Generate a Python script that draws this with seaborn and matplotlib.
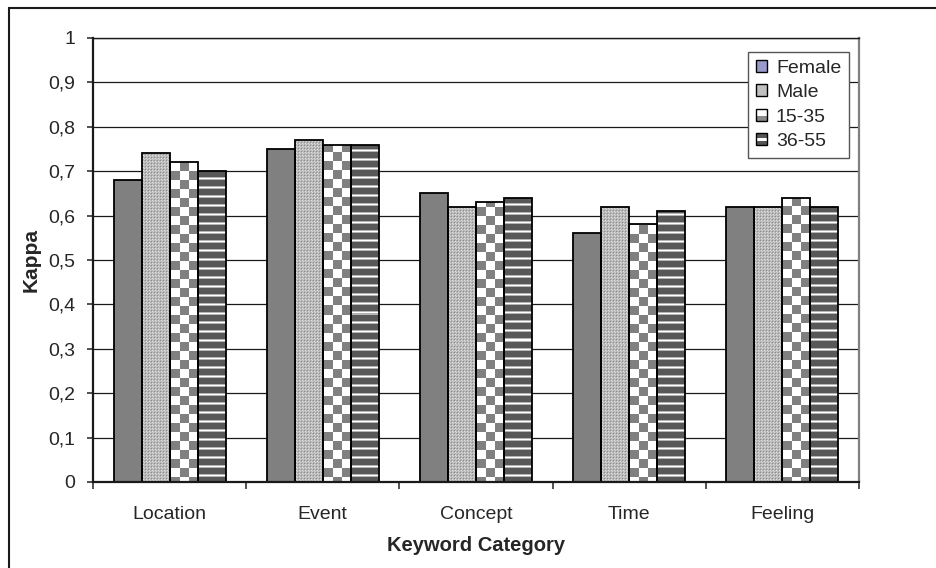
import numpy as np
import pandas as pd
import matplotlib
matplotlib.use("Agg")
import matplotlib.pyplot as plt
import seaborn as sns
from matplotlib.patches import Rectangle, Patch
from matplotlib.legend_handler import HandlerBase

# ---- data ---------------------------------------------------------------
categories = ["Location", "Event", "Concept", "Time", "Feeling"]
groups = ["Female", "Male", "15-35", "36-55"]
female = [0.68, 0.75, 0.65, 0.56, 0.62]
male = [0.74, 0.77, 0.62, 0.62, 0.62]
age_15_35 = [0.72, 0.76, 0.63, 0.58, 0.64]
age_36_55 = [0.70, 0.76, 0.64, 0.61, 0.62]
y_ticks = [0, 0.1, 0.2, 0.3, 0.4, 0.5, 0.6, 0.7, 0.8, 0.9, 1.0]
y_tick_labels = ["0", "0,1", "0,2", "0,3", "0,4", "0,5", "0,6", "0,7", "0,8", "0,9", "1"]

series = {"Female": female, "Male": male, "15-35": age_15_35, "36-55": age_36_55}
df = pd.DataFrame(
    [(c, g, v) for g in groups for c, v in zip(categories, series[g])],
    columns=["Category", "Group", "Kappa"],
)

# ---- style --------------------------------------------------------------
sns.set_style("white")
plt.rcParams["font.family"] = ["Liberation Sans", "DejaVu Sans"]

W, H = 936, 568
fig = plt.figure(figsize=(W / 100, H / 100), dpi=100)
ax_l, ax_r, ax_t, ax_b = 93, 859, 38, 482
ax = fig.add_axes([ax_l / W, 1 - ax_b / H, (ax_r - ax_l) / W, (ax_b - ax_t) / H])

palette = {"Female": "#808080", "Male": "#c0c0c0", "15-35": "#c0c0c0", "36-55": "#5a5a5a"}
sns.barplot(
    data=df, x="Category", y="Kappa", hue="Group",
    order=categories, hue_order=groups, palette=palette,
    width=0.73, saturation=1, edgecolor="black", linewidth=1.3,
    errorbar=None, legend=False, ax=ax,
)

ax.set_xlim(-0.5, len(categories) - 0.5)
ax.set_ylim(0, 1)
ax.set_autoscale_on(False)


# ---- bar fill textures (pixel patterns clipped to each bar) ---------------
def grid_shape(rows, cols):
    return np.broadcast(rows, cols).shape


def tex_solid(rows, cols):
    v = np.full(grid_shape(rows, cols), 0x80 / 255)
    return np.dstack([v] * 3)


def tex_dots(rows, cols):
    base = np.full(grid_shape(rows, cols), 0.72)
    base[((rows % 3) == 1) & ((cols % 3) == 1)] = 0.56
    base[((rows % 3) == 2) & ((cols % 3) == 2)] = 0.88
    base[((rows % 3) == 0) & ((cols % 3) == 0)] = 0.82
    return np.dstack([base] * 3)


def tex_checker(rows, cols):
    cell = 9
    on = ((rows // cell) + (cols // cell)) % 2 == 0
    v = np.where(on, 0x80 / 255, 1.0)
    return np.dstack([v] * 3)


def tex_stripes(rows, cols):
    period = 9
    phase = np.broadcast_to(rows % period, grid_shape(rows, cols))
    lut = np.array([0x58, 0x58, 0x58, 0x58, 0x58, 0x58, 0xb4, 0xff, 0xb4]) / 255
    v = lut[phase]
    return np.dstack([v] * 3)


textures = [tex_solid, tex_dots, tex_checker, tex_stripes]

for container, tex in zip(ax.containers, textures):
    for bar in container:
        x0, y0 = bar.get_x(), bar.get_y()
        w, h = bar.get_width(), bar.get_height()
        (px0, py0), (px1, py1) = ax.transData.transform([(x0, y0), (x0 + w, y0 + h)])
        npx = max(int(round(px1 - px0)), 1)
        npy = max(int(round(py1 - py0)), 1)
        top_row = int(round(H - py1))
        rows = (top_row + np.arange(npy))[:, None]
        cols = (int(round(px0)) + np.arange(npx))[None, :]
        img = ax.imshow(
            tex(rows, cols), extent=(x0, x0 + w, y0, y0 + h), origin="upper",
            interpolation="nearest", aspect="auto", zorder=bar.get_zorder() - 0.05,
        )
        img.set_clip_path(bar)
        bar.set_facecolor("none")

ax.set_xlim(-0.5, len(categories) - 0.5)
ax.set_ylim(0, 1)

# ---- axes, grid, ticks ----------------------------------------------------
ax.set_axisbelow(True)
ax.yaxis.grid(True, color="#1a1a1a", linewidth=0.9)
ax.xaxis.grid(False)

ax.set_yticks(y_ticks, y_tick_labels)
ax.set_xticks(range(len(categories)), categories)
ax.set_xticks(np.arange(-0.5, len(categories)), minor=True)

ax.tick_params(axis="y", which="major", direction="out", length=4.5, width=1.2,
               color="#333333", pad=8.5, labelsize=14, left=True)
ax.tick_params(axis="x", which="major", length=0, pad=17, labelsize=14, bottom=True)
ax.tick_params(axis="x", which="minor", direction="out", length=5, width=1.2,
               color="#333333", bottom=True)

for side in ["left", "bottom"]:
    ax.spines[side].set_color("#1a1a1a")
    ax.spines[side].set_linewidth(1.6)
ax.spines["top"].set_color("#1a1a1a")
ax.spines["top"].set_linewidth(1.0)
ax.spines["right"].set_color("#808080")
ax.spines["right"].set_linewidth(1.6)

ax.set_xlabel("Keyword Category", fontsize=14.5, fontweight="bold")
ax.set_ylabel("Kappa", fontsize=15, fontweight="bold")
ax.xaxis.set_label_coords(0.5, (ax_b - 536) / (ax_b - ax_t))
ax.yaxis.set_label_coords((41 - ax_l) / (ax_r - ax_l), 0.5)


# ---- legend ----------------------------------------------------------------
class Swatch(HandlerBase):
    """Small square key built from stacked coloured bands."""

    def __init__(self, layers):
        super().__init__()
        self.layers = layers

    def create_artists(self, legend, orig_handle, xdescent, ydescent,
                       width, height, fontsize, trans):
        x0, y0 = -xdescent, -ydescent
        arts = []
        for fb, ft, color in self.layers:
            arts.append(Rectangle((x0, y0 + fb * height), width, (ft - fb) * height,
                                  facecolor=color, edgecolor="none", transform=trans))
        arts.append(Rectangle((x0, y0), width, height, fill=False,
                              edgecolor="black", linewidth=1.0, transform=trans))
        return arts


swatch_layers = {
    "Female": [(0, 1, "#9999cc")],
    "Male": [(0, 1, "#c0c0c0")],
    "15-35": [(0, 1, "#ffffff"), (0, 0.42, "#8a8a8a")],
    "36-55": [(0, 1, "#555555"), (0.38, 0.62, "#ffffff")],
}
handles = [Patch(label=g) for g in groups]
leg = ax.legend(
    handles=handles, labels=groups,
    handler_map={h: Swatch(swatch_layers[g]) for h, g in zip(handles, groups)},
    loc="upper right",
    bbox_to_anchor=((849 - ax_l) / (ax_r - ax_l), (ax_b - 52) / (ax_b - ax_t)),
    borderaxespad=0, fontsize=14, frameon=True, fancybox=False, shadow=False,
    framealpha=1, edgecolor="#555555", handlelength=0.58, handleheight=0.58,
    handletextpad=0.45, labelspacing=0.38, borderpad=0.4,
)
leg.get_frame().set_linewidth(1.0)

# ---- outer frame -------------------------------------------------------
fig.patches.append(Rectangle((9 / W, -0.05), 1.1, (1 - 8 / H) + 0.05, transform=fig.transFigure,
                             fill=False, edgecolor="#1a1a1a", linewidth=1.5))

fig.savefig("out.png", dpi=100)
